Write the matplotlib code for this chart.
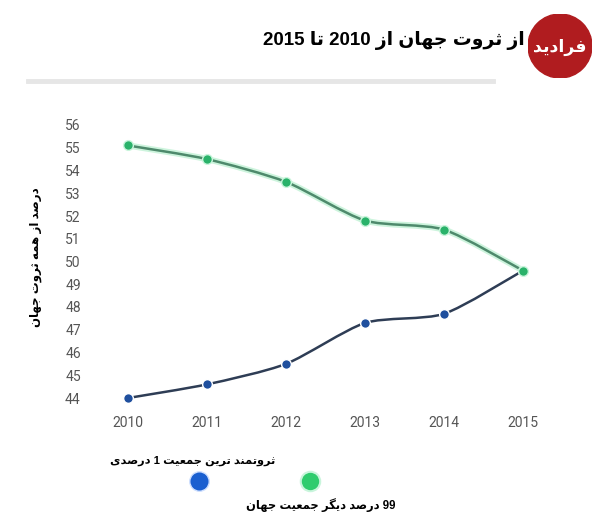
import matplotlib
matplotlib.use('Agg')
import matplotlib.pyplot as plt
import numpy as np
from matplotlib.path import Path
from matplotlib.patches import PathPatch, Circle

years = [2010, 2011, 2012, 2013, 2014, 2015]
rest_99 = [55.1, 54.5, 53.5, 51.8, 51.4, 49.6]
top_1 = [44.0, 44.6, 45.5, 47.3, 47.7, 49.6]
yticks = list(range(44, 57))

title_txt = 'از ثروت جهان از 2010 تا 2015'
ylabel_txt = 'درصد از همه ثروت جهان'
label_top = 'ثروتمند ترین جمعیت 1 درصدی'
label_rest = '99 درصد دیگر جمعیت جهان'
logo_txt = 'فرادید'

# forms: isolated, final, initial, medial
forms = {
    'ا': ('\uFE8D', '\uFE8E', None, None),
    'ز': ('\uFEAF', '\uFEB0', None, None),
    'ر': ('\uFEAD', '\uFEAE', None, None),
    'د': ('\uFEA9', '\uFEAA', None, None),
    'و': ('\uFEED', '\uFEEE', None, None),
    'ث': ('\uFE99', '\uFE9A', '\uFE9B', '\uFE9C'),
    'ت': ('\uFE95', '\uFE96', '\uFE97', '\uFE98'),
    'ج': ('\uFE9D', '\uFE9E', '\uFE9F', '\uFEA0'),
    'ه': ('\uFEE9', '\uFEEA', '\uFEEB', '\uFEEC'),
    'ن': ('\uFEE5', '\uFEE6', '\uFEE7', '\uFEE8'),
    'ص': ('\uFEB9', '\uFEBA', '\uFEBB', '\uFEBC'),
    'م': ('\uFEE1', '\uFEE2', '\uFEE3', '\uFEE4'),
    'ی': ('\uFBFC', '\uFBFD', '\uFBFE', '\uFBFF'),
    'ع': ('\uFEC9', '\uFECA', '\uFECB', '\uFECC'),
    'گ': ('\uFB92', '\uFB93', '\uFB94', '\uFB95'),
    'ف': ('\uFED1', '\uFED2', '\uFED3', '\uFED4'),
}


def dual(c):
    return c in forms and forms[c][2] is not None


def shape(s):
    out = []
    for i, c in enumerate(s):
        if c not in forms:
            out.append(c)
            continue
        prev = i > 0 and dual(s[i - 1])
        nxt = dual(c) and i + 1 < len(s) and s[i + 1] in forms
        if prev and nxt:
            out.append(forms[c][3])
        elif prev:
            out.append(forms[c][1])
        elif nxt:
            out.append(forms[c][2])
        else:
            out.append(forms[c][0])
    return ''.join(out)


def rtl(s):
    # shape letters, then put in visual order (digit runs stay LTR)
    s = shape(s)
    runs = []
    for c in s:
        d = c.isdigit()
        if runs and runs[-1][0] == d:
            runs[-1][1] += c
        else:
            runs.append([d, c])
    runs.reverse()
    return ''.join(r if d else r[::-1] for d, r in runs)


def smooth_path(xs, ys, t=0.12):
    xs = np.asarray(xs, float)
    ys = np.asarray(ys, float)
    verts = [(xs[0], ys[0])]
    codes = [Path.MOVETO]
    n = len(xs)
    for i in range(n - 1):
        x0, y0 = xs[max(i - 1, 0)], ys[max(i - 1, 0)]
        x1, y1 = xs[i], ys[i]
        x2, y2 = xs[i + 1], ys[i + 1]
        x3, y3 = xs[min(i + 2, n - 1)], ys[min(i + 2, n - 1)]
        c1 = (x1 + (x2 - x0) * t, y1 + (y2 - y0) * t)
        c2 = (x2 - (x3 - x1) * t, y2 - (y3 - y1) * t)
        verts += [c1, c2, (x2, y2)]
        codes += [Path.CURVE4] * 3
    return Path(verts, codes)


fam = ['Liberation Sans', 'DejaVu Sans']

fig = plt.figure(figsize=(6, 5.3), dpi=100)
ax = fig.add_axes([128 / 600, 1 - 398 / 530, (523 - 128) / 600, (398 - 125) / 530])
ax.set_xlim(2010, 2015)
ax.set_ylim(44, 56)
for s in ax.spines.values():
    s.set_visible(False)
ax.set_xticks(years)
ax.set_yticks(yticks)
ax.tick_params(length=0, labelcolor='#555555', labelsize=10)
ax.tick_params(axis='y', pad=34)
ax.tick_params(axis='x', pad=13)
for lab in ax.get_xticklabels() + ax.get_yticklabels():
    lab.set_family('Roboto')

gp = smooth_path(years, rest_99)
ax.add_patch(PathPatch(gp, fc='none', ec='#b8f0cf', lw=4.5, alpha=0.7, clip_on=False))
ax.add_patch(PathPatch(gp, fc='none', ec='#4e8a6c', lw=1.8, clip_on=False))
bp = smooth_path(years, top_1)
ax.add_patch(PathPatch(bp, fc='none', ec='#2e3d55', lw=1.8, clip_on=False))
ax.plot(years, top_1, 'o', color='#1f4f9e', ms=7, mec='white', mew=1, clip_on=False, zorder=5)
ax.plot(years, rest_99, 'o', color='#2ab26a', ms=7, mec='#c9f5dc', mew=1, clip_on=False, zorder=5)

ax.set_ylabel(rtl(ylabel_txt), family=fam, fontweight='bold', fontsize=8.5)
ax.yaxis.set_label_coords(42 / 600, 1 - 257 / 530, transform=fig.transFigure)

# title and header
fig.text(525 / 600, 1 - 40 / 530, rtl(title_txt), ha='right', va='center',
         family=fam, fontweight='bold', fontsize=13.5)
fig.add_artist(plt.Line2D([28 / 600, 493 / 600], [1 - 81 / 530, 1 - 81 / 530],
                          color='#e6e6e6', lw=3.5))
lax = fig.add_axes([528 / 600, 1 - 78 / 530, 64 / 600, 64 / 530])
lax.set_xlim(-1, 1)
lax.set_ylim(-1, 1)
lax.set_aspect('equal')
lax.axis('off')
lax.add_patch(Circle((0, 0), 1, color='#b01c1f'))
lax.text(0, -0.05, rtl(logo_txt), ha='center', va='center', color='white',
         family=fam, fontweight='bold', fontsize=12.5)

# legend
fig.text(275 / 600, 1 - 461 / 530, rtl(label_top), ha='right', va='center',
         family=fam, fontweight='bold', fontsize=8.2)
fig.text(395 / 600, 1 - 505 / 530, rtl(label_rest), ha='right', va='center',
         family=fam, fontweight='bold', fontsize=8.3)
fig.add_artist(plt.Line2D([199 / 600], [1 - 481 / 530], marker='o', ms=14,
                          color='#1a5fd0', mec='#cfe0ff', mew=1))
fig.add_artist(plt.Line2D([310 / 600], [1 - 481 / 530], marker='o', ms=14,
                          color='#2fcc6e', mec='#c9f5dc', mew=1.5))

fig.savefig('out.png', dpi=100)
